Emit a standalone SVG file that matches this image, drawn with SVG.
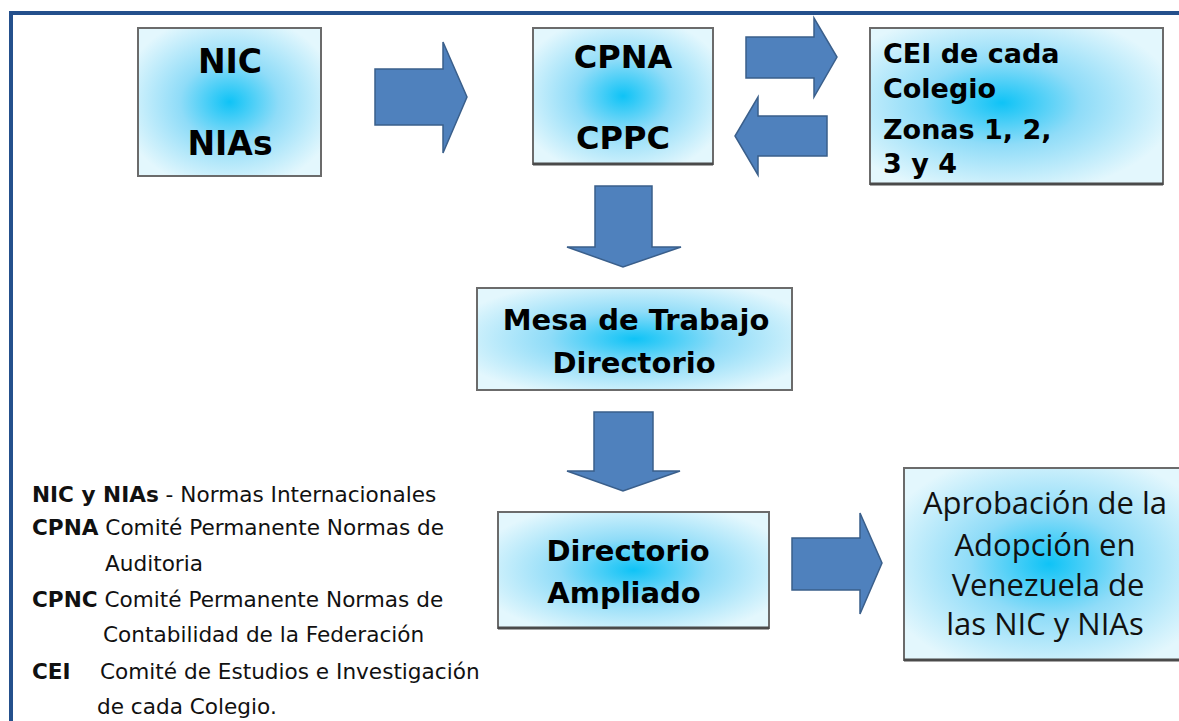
<svg xmlns="http://www.w3.org/2000/svg" width="1179" height="721" viewBox="0 0 1179 721">
<defs>
<radialGradient id="g" cx="50%" cy="50%" r="60%">
<stop offset="0" stop-color="#0fc3f6"/>
<stop offset="0.45" stop-color="#8fdcf8"/>
<stop offset="1" stop-color="#e3f7fd"/>
</radialGradient>
<radialGradient id="g2" cx="45%" cy="48%" r="60%">
<stop offset="0" stop-color="#0fc3f6"/>
<stop offset="0.45" stop-color="#8fdcf8"/>
<stop offset="1" stop-color="#e3f7fd"/>
</radialGradient>
<style>
.box{fill:url(#g);stroke:#6b6b6b;stroke-width:2}
.shadow{fill:none;stroke:#4a4a4a;stroke-width:3}
.arrow{fill:#4f81bd;stroke:#3a5f8b;stroke-width:1.5;stroke-linejoin:miter}
.b{font-family:"DejaVu Sans",Verdana,sans-serif;font-weight:bold;fill:#000}
.r{font-family:"Open Sans","DejaVu Sans",sans-serif;fill:#111}
.lg{font-family:"DejaVu Sans",Verdana,sans-serif;font-size:21.6px;fill:#111}
</style>
</defs>
<rect width="1179" height="721" fill="#fff"/>
<rect id="frame" x="11" y="13" width="1190" height="730" fill="none" stroke="#24508c" stroke-width="4"/>

<g id="connectors">
<polygon class="arrow" points="375,69 443,69 443,42 467,97 443,153 443,125 375,125"/>
<polygon class="arrow" points="746,37 814,37 814,18 837,57 814,97 814,78 746,78"/>
<polygon class="arrow" points="827,116 758,116 758,97 735,136 758,175 758,156 827,156"/>
<polygon class="arrow" points="595,186 652,186 652,247 681,247 623,267 567,247 595,247"/>
<polygon class="arrow" points="594,412 653,412 653,471 680,471 623,491 567,471 594,471"/>
<polygon class="arrow" points="792,538 860,538 860,513 882,563 860,614 860,590 792,590"/>
</g>

<g id="nic">
<rect class="box" x="138" y="28" width="183" height="148"/>
<text class="b" font-size="33" text-anchor="middle" x="230" y="73">NIC</text>
<text class="b" font-size="33" text-anchor="middle" x="230" y="155">NIAs</text>
</g>

<g id="cpna">
<rect class="box" x="533" y="28" width="180" height="136"/>
<line class="shadow" x1="533" y1="164" x2="713" y2="164"/>
<text class="b" font-size="32" text-anchor="middle" x="623" y="68">CPNA</text>
<text class="b" font-size="32" text-anchor="middle" x="623" y="149">CPPC</text>
</g>

<g id="cei">
<rect x="870" y="28" width="293" height="156" fill="url(#g2)" stroke="#6b6b6b" stroke-width="2"/>
<line class="shadow" x1="870" y1="184" x2="1163" y2="184"/>
<text class="b" font-size="27" x="883" y="63">CEI de cada</text>
<text class="b" font-size="27" x="883" y="98">Colegio</text>
<text class="b" font-size="27" x="883" y="139">Zonas 1, 2,</text>
<text class="b" font-size="27" x="883" y="173">3 y 4</text>
</g>

<g id="mesa">
<rect class="box" x="477" y="288" width="315" height="102"/>
<text class="b" font-size="29" text-anchor="middle" x="636" y="330">Mesa de Trabajo</text>
<text class="b" font-size="29" text-anchor="middle" x="634" y="373">Directorio</text>
</g>

<g id="ampliado">
<rect class="box" x="498" y="512" width="271" height="116"/>
<line class="shadow" x1="498" y1="628" x2="769" y2="628"/>
<text class="b" font-size="29" text-anchor="middle" x="628" y="561">Directorio</text>
<text class="b" font-size="29" text-anchor="middle" x="624" y="603">Ampliado</text>
</g>

<g id="aprobacion">
<rect class="box" x="904" y="468" width="290" height="192"/>
<line class="shadow" x1="904" y1="660" x2="1190" y2="660"/>
<text class="r" font-size="31" text-anchor="middle" x="1045" y="514">Aprobación de la</text>
<text class="r" font-size="31" text-anchor="middle" x="1045" y="556">Adopción en</text>
<text class="r" font-size="31" text-anchor="middle" x="1048" y="596">Venezuela de</text>
<text class="r" font-size="31" text-anchor="middle" x="1045" y="635">las NIC y NIAs</text>
</g>

<g id="legend">
<text class="lg" x="32" y="502"><tspan font-weight="bold">NIC y NIAs</tspan> - Normas Internacionales</text>
<text class="lg" x="32" y="535"><tspan font-weight="bold">CPNA</tspan> Comité Permanente Normas de</text>
<text class="lg" x="105" y="571">Auditoria</text>
<text class="lg" x="32" y="607"><tspan font-weight="bold">CPNC</tspan> Comité Permanente Normas de</text>
<text class="lg" x="103" y="642">Contabilidad de la Federación</text>
<text class="lg" x="32" y="679"><tspan font-weight="bold">CEI</tspan><tspan x="100">Comité de Estudios e Investigación</tspan></text>
<text class="lg" x="97" y="714">de cada Colegio.</text>
</g>
</svg>
